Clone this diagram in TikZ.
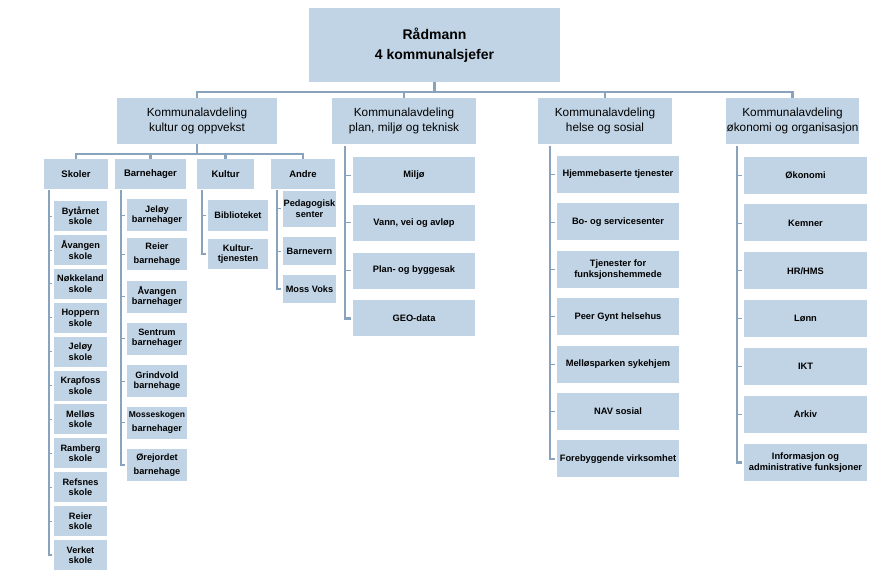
\documentclass[tikz,border=0pt]{standalone}
\usepackage{fontspec}
\setmainfont{Liberation Sans}
\definecolor{boxblue}{RGB}{193,212,229}
\definecolor{lineblue}{RGB}{137,163,189}

\begin{document}
\begin{tikzpicture}[x=1pt, y=-1pt,
    box/.style={fill=boxblue, inner sep=0pt, align=center, text=black},
    topbox/.style={box, font=\bfseries\fontsize{14}{20}\selectfont, minimum width=251pt, minimum height=74pt},
    avd/.style={box, font=\fontsize{11.8}{15}\selectfont, minimum height=46pt},
    grp/.style={box, font=\bfseries\fontsize{9.5}{11}\selectfont, minimum height=30pt},
    small/.style={box, font=\bfseries\fontsize{9.2}{10.5}\selectfont},
    wide/.style={box, font=\bfseries\fontsize{9.3}{11}\selectfont, minimum width=122pt, minimum height=37pt},
    conn/.style={draw=lineblue, line width=2.4pt},
    tick/.style={draw=lineblue, line width=0.8pt, shorten >=2pt}]
    \useasboundingbox (0,0) rectangle (877,579);

    % top
    \node[topbox] (rad) at (434.5,45) {Rådmann\\4 kommunalsjefer};

    % kommunalavdelinger
    \node[avd, minimum width=160pt] (kulopp) at (197,121) {Kommunalavdeling\\kultur og oppvekst};
    \node[avd, minimum width=144pt] (plan) at (404,121) {Kommunalavdeling\\plan, miljø og teknisk};
    \node[avd, minimum width=134pt] (helse) at (605,121) {Kommunalavdeling\\helse og sosial};
    \node[avd, minimum width=133pt] (okon) at (792.5,121) {Kommunalavdeling\\økonomi og organisasjon};

    % kultur og oppvekst
    \node[grp, minimum width=64pt] (skoler) at (76,174) {Skoler};
    \node[grp, minimum width=71pt] (barneh) at (150.5,174) {Barnehager};
    \node[grp, minimum width=57pt] (kultur) at (225.5,174) {Kultur};
    \node[grp, minimum width=64pt] (andre) at (303,174) {Andre};

    \foreach \n/\t [count=\i from 0] in {bytarnet/Bytårnet, avangen/Åvangen,
        nokkeland/Nøkkeland, hoppern/Hoppern, jeloy/Jeløy, krapfoss/Krapfoss,
        mellos/Melløs, ramberg/Ramberg, refsnes/Refsnes, reier/Reier, verket/Verket}
        \node[small, minimum width=53pt, minimum height=30pt] (\n) at (80.5,{216+33.9*\i}) {\t\\skole};

    \node[small, minimum width=60pt, minimum height=32pt] (jeloybh) at (157,215) {Jeløy\\barnehager};
    \node[small, minimum width=60pt, minimum height=32pt] (reierbh) at (157,254) {Reier\\[3pt]barnehage};
    \node[small, minimum width=60pt, minimum height=32pt] (avangenbh) at (157,296.5) {Åvangen\\barnehager};
    \node[small, minimum width=60pt, minimum height=32pt] (sentrumbh) at (157,338.5) {Sentrum\\barnehager};
    \node[small, minimum width=60pt, minimum height=32pt] (grindvoldbh) at (157,381) {Grindvold\\barnehage};
    \node[small, minimum width=60pt, minimum height=32pt] (mosseskogenbh) at (157,422.5) {{\fontsize{8.5}{10}\selectfont Mosseskogen}\\[3pt]barnehager};
    \node[small, minimum width=60pt, minimum height=32pt] (orejordetbh) at (157,465) {Ørejordet\\[3pt]barnehage};

    \node[small, minimum width=60pt, minimum height=31pt] (bibl) at (238,215.5) {Biblioteket};
    \node[small, minimum width=60pt, minimum height=30pt] (kulturtj) at (238,254) {Kultur-\\tjenesten};

    \node[small, minimum width=53pt, minimum height=36pt] (pedsenter) at (309.5,208.5) {Pedagogisk\\senter};
    \node[small, minimum width=53pt, minimum height=28pt] (barnevern) at (309.5,251) {Barnevern};
    \node[small, minimum width=53pt, minimum height=28pt] (mossvoks) at (309.5,289) {Moss Voks};

    % plan, miljo og teknisk
    \foreach \n/\t [count=\i from 0] in {miljo/Miljø, vann/{Vann, vei og avløp},
        plansak/Plan- og byggesak, geo/GEO-data}
        \node[wide, minimum height=36pt] (\n) at (414,{175+47.8*\i}) {\t};

    % helse og sosial
    \foreach \n/\t [count=\i from 0] in {hjemme/Hjemmebaserte tjenester,
        bosenter/Bo- og servicesenter, tjfunk/Tjenester for\\funksjonshemmede,
        peergynt/Peer Gynt helsehus, mellospark/Melløsparken sykehjem,
        nav/NAV sosial, forebygg/Forebyggende virksomhet}
        \node[wide] (\n) at (618,{174.5+47.4*\i}) {\t};

    % okonomi og organisasjon
    \foreach \n/\t [count=\i from 0] in {okonomi/Økonomi, kemner/Kemner, hrhms/{HR/HMS},
        lonn/Lønn, ikt/IKT, arkiv/Arkiv, info/Informasjon og\\administrative funksjoner}
        \node[wide, minimum width=123pt] (\n) at (805.5,{175+47.9*\i}) {\t};

    % connectors
    \coordinate (bus1) at (434.5,92);
    \foreach \n in {kulopp,plan,helse,okon}
        \draw[conn] (rad.south) -- (rad.south |- bus1) -| (\n.north);
    \coordinate (bus2) at (196,154);
    \foreach \n in {skoler,barneh,kultur,andre}
        \draw[conn] (kulopp.south) -- (kulopp.south |- bus2) -| (\n.north);

    \coordinate (skolersp) at (49,190);
    \coordinate (barnehsp) at (121,190);
    \coordinate (kultursp) at (202,190);
    \coordinate (andresp) at (277,190);
    \coordinate (plansp) at (345,146);
    \coordinate (helsesp) at (550,146);
    \coordinate (okonsp) at (737,146);

    \draw[conn, shorten >=2pt] (skolersp) |- (verket.west);
    \foreach \n in {bytarnet,avangen,nokkeland,hoppern,jeloy,krapfoss,mellos,ramberg,refsnes,reier}
        \draw[tick] (skolersp |- \n.west) -- (\n.west);
    \draw[conn, shorten >=2pt] (barnehsp) |- (orejordetbh.west);
    \foreach \n in {jeloybh,reierbh,avangenbh,sentrumbh,grindvoldbh,mosseskogenbh}
        \draw[tick] (barnehsp |- \n.west) -- (\n.west);
    \draw[conn, shorten >=2pt] (kultursp) |- (kulturtj.west);
    \draw[tick] (kultursp |- bibl.west) -- (bibl.west);
    \draw[conn, shorten >=2pt] (andresp) |- (mossvoks.west);
    \foreach \n in {pedsenter,barnevern}
        \draw[tick] (andresp |- \n.west) -- (\n.west);
    \draw[conn, shorten >=2pt] (plansp) |- (geo.west);
    \foreach \n in {miljo,vann,plansak}
        \draw[tick] (plansp |- \n.west) -- (\n.west);
    \draw[conn, shorten >=2pt] (helsesp) |- (forebygg.west);
    \foreach \n in {hjemme,bosenter,tjfunk,peergynt,mellospark,nav}
        \draw[tick] (helsesp |- \n.west) -- (\n.west);
    \draw[conn, shorten >=2pt] (okonsp) |- (info.west);
    \foreach \n in {okonomi,kemner,hrhms,lonn,ikt,arkiv}
        \draw[tick] (okonsp |- \n.west) -- (\n.west);
\end{tikzpicture}
\end{document}
